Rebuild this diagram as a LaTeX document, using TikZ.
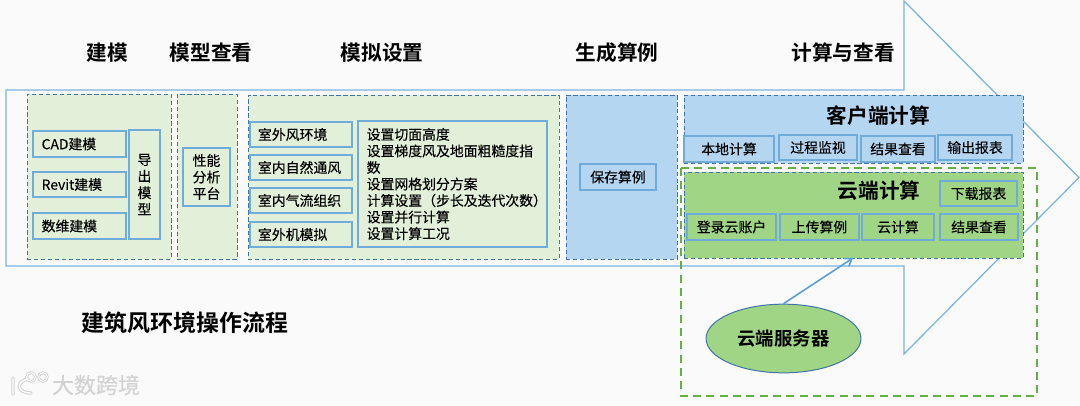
\documentclass[tikz,border=0pt]{standalone}
\usepackage{fontspec}
\setmainfont{Noto Sans CJK SC}[FakeBold=0.25,BoldFont={Noto Sans CJK SC Bold},BoldFeatures={FakeBold=0}]
\usetikzlibrary{arrows.meta,shapes.geometric}
\definecolor{bgc}{HTML}{FAFAFA}
\definecolor{paleg}{HTML}{E2F0D9}
\definecolor{paleb}{HTML}{B5D6F1}
\definecolor{cloudg}{HTML}{A0D585}
\definecolor{boxline}{HTML}{6FACDA}
\definecolor{arrowline}{HTML}{7DB4DE}
\definecolor{dashline}{HTML}{3F75A8}
\definecolor{dashgreen}{HTML}{66AF45}
\definecolor{srvarrow}{HTML}{5B9FD6}
\definecolor{wmark}{HTML}{D2D2D2}
\tikzset{
  px/.style={x=0.75pt,y=-0.75pt},
  panel/.style={draw=dashline,line width=0.75pt,dash pattern=on 3.2pt off 2pt,inner sep=0pt,outer sep=0pt},
  itembox/.style={draw=boxline,line width=0.85pt,inner ysep=0pt,inner xsep=0pt,outer sep=0pt,font=\fontsize{10.4}{12.4}\selectfont,text=black},
  head/.style={font=\bfseries\fontsize{15.5}{18}\selectfont,text=black,inner sep=0pt},
  flowarrow/.style={draw=arrowline,line width=0.95pt,line join=miter},
  logohalo/.style={wmark,line width=2.6pt,line cap=round},
  logocore/.style={white,line width=1pt,line cap=round},
}
% \bx[style]{name}{x1}{y1}{x2}{y2}{alignment}{pad}{text}
\newcommand{\bx}[9][]{%
  \pgfmathsetmacro{\bxw}{0.75*(#5-#3)}%
  \pgfmathsetmacro{\bxh}{0.75*(#6-#4)}%
  \pgfmathsetmacro{\bxt}{\bxw-2*#8}%
  \pgfmathsetmacro{\bxcx}{(#3+#5)/2}%
  \pgfmathsetmacro{\bxcy}{(#4+#6)/2}%
  \node[itembox,#1,text width=\bxt pt,minimum width=\bxw pt,minimum height=\bxh pt,align=#7,inner xsep=#8 pt] (#2) at (\bxcx,\bxcy) {#9};%
}
\newcommand{\pn}[7][]{%
  \pgfmathsetmacro{\bxw}{0.75*(#5-#3)}%
  \pgfmathsetmacro{\bxh}{0.75*(#6-#4)}%
  \pgfmathsetmacro{\bxcx}{(#3+#5)/2}%
  \pgfmathsetmacro{\bxcy}{(#4+#6)/2}%
  \node[panel,#1,minimum width=\bxw pt,minimum height=\bxh pt] (#2) at (\bxcx,\bxcy) {#7};%
}
\begin{document}
\begin{tikzpicture}[px]
\useasboundingbox (0,0) rectangle (1080,405);
\fill[bgc] (0,0) rectangle (1080,405);
% big flow arrow
\draw[flowarrow] (6,90) -- (904,90) -- (904,1) -- (1079,177.5) -- (904,354) -- (904,266) -- (6,266) -- cycle;
% headings
\node[head] (t1) at (107,53) {建模};
\node[head] (t2) at (211,53) {模型查看};
\node[head] (t3) at (382,53) {模拟设置};
\node[head] (t4) at (617,53) {生成算例};
\node[head] (t5) at (843,53) {计算与查看};
% panels
\pn[fill=paleg]{pmodel}{27}{94}{171}{259}{}
\pn[fill=paleg]{pview}{177}{94}{237}{259}{}
\pn[fill=paleg]{psim}{248}{95}{559}{259}{}
\pn[fill=paleb]{psave}{566}{95}{677}{259}{}
\pn[fill=paleb]{pclient}{684}{95}{1023}{163}{}
\pn[fill=cloudg]{pcloud}{684}{172}{1023}{258}{}
% modelling
\bx{cad}{33}{131}{126}{157}{flush left}{6.5}{CAD建模}
\bx{revit}{33}{172}{126}{197}{flush left}{6.5}{Revit建模}
\bx{dv}{33}{213}{126}{239}{flush left}{6.5}{数维建模}
\bx{exp}{129}{130}{160}{239}{center}{0}{导\\出\\模\\型}
% platform
\bx{plat}{183}{148}{230}{206}{center}{0}{性能\\分析\\平台}
% simulation
\bx{s1}{250}{122}{352}{147}{flush left}{6}{室外风环境}
\bx{s2}{250}{155}{352}{180}{flush left}{6}{室内自然通风}
\bx{s3}{250}{188}{352}{213}{flush left}{6}{室内气流组织}
\bx{s4}{250}{222}{352}{247}{flush left}{6}{室外机模拟}
\bx{sset}{358}{121}{547}{247}{flush left}{6.5}{设置切面高度\\设置梯度风及地面粗糙度指\\数\\设置网格划分方案\\计算设置（步长及迭代次数）\\设置并行计算\\设置计算工况}
% save
\bx{save}{580}{164}{656}{190}{center}{0}{保存算例}
% client
\node[head] (hclient) at (878.5,116) {客户端计算};
\bx{c1}{684}{136}{774}{162}{center}{0}{本地计算}
\bx{c2}{779}{135}{857}{160}{center}{0}{过程监视}
\bx{c3}{861}{136}{935}{162}{center}{0}{结果查看}
\bx{c4}{938}{135}{1012}{160}{center}{0}{输出报表}
% cloud
\node[head] (hcloud) at (879,191) {云端计算};
\bx{d0}{940}{181}{1017}{206}{center}{0}{下载报表}
\bx{d1}{687}{214}{776}{240}{center}{0}{登录云账户}
\bx{d2}{780}{214}{859}{240}{center}{0}{上传算例}
\bx{d3}{862}{214}{934}{240}{center}{0}{云计算}
\bx{d4}{940}{214}{1018}{240}{center}{0}{结果查看}
% green dashed region
\draw[dashgreen,line width=1.6pt,dash pattern=on 6pt off 4pt] (681,168) rectangle (1037,396);
% server
\node[ellipse,draw=dashline,line width=0.75pt,fill=cloudg,minimum width=116.2pt,minimum height=51.5pt,inner sep=0pt,font=\bfseries\fontsize{13.8}{16}\selectfont] (server) at (783.5,338.5) {云端服务器};
\coordinate (srvend) at (853,258);
\draw[srvarrow,line width=1.2pt,-{Straight Barb[length=5pt,width=7pt]}] (server.north) -- (srvend);
% title
\node[font=\bfseries\fontsize{17.2}{20}\selectfont,inner sep=0pt] (main) at (185,323) {建筑风环境操作流程};
% watermark
\node[font=\fontsize{16.5}{18}\selectfont,text=wmark,inner sep=0pt] (wm) at (96,385) {大数跨境};
\draw[logohalo] (13,378) -- (13,394) (28,379) .. controls (16,381) and (16,393) .. (31,393);
\draw[logohalo,line width=2pt] (31,377) circle (4.4) (43,377) circle (4.4);
\draw[logocore] (13,378) -- (13,394) (28,379) .. controls (16,381) and (16,393) .. (31,393);
\draw[logocore,line width=0.7pt] (31,377) circle (4.4) (43,377) circle (4.4);
\end{tikzpicture}
\end{document}
